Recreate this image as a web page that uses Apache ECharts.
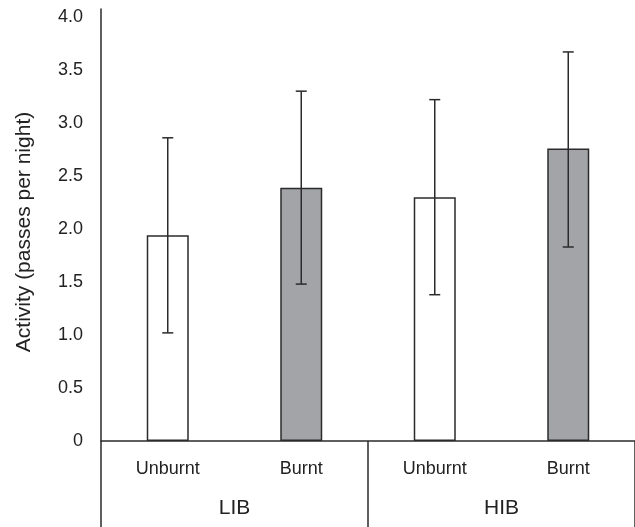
<!DOCTYPE html>
<html><head><meta charset="utf-8">
<script src="https://cdn.jsdelivr.net/npm/echarts@6/dist/echarts.min.js"></script>
<style>html,body{margin:0;padding:0;background:#fff}#c{width:635px;height:527px}</style>
</head><body><div id="c"></div>
<script>
var categories = ['Unburnt', 'Burnt', 'Unburnt', 'Burnt'];
var groups = ['LIB', 'HIB'];
var means = [1.94, 2.39, 2.30, 2.76];
var upper = [2.86, 3.30, 3.22, 3.67];
var lower = [1.02, 1.48, 1.38, 1.83];
var fills = ['#ffffff', '#a3a4a8', '#ffffff', '#a3a4a8'];
var yTicks = [0, 0.5, 1.0, 1.5, 2.0, 2.5, 3.0, 3.5, 4.0];

var ink = '#2b2b2b';
var chart = echarts.init(document.getElementById('c'));
var font = 'Liberation Sans, Arial, sans-serif';
chart.setOption({
  animation: false,
  grid: { left: 101, right: -2, top: 9, bottom: 86 },
  xAxis: [{
    type: 'category', data: categories, position: 'bottom',
    axisLine: { lineStyle: { color: ink, width: 1.5 } },
    axisTick: { show: false },
    axisLabel: { color: '#222', fontSize: 18, fontFamily: font, margin: 19 }
  }, {
    type: 'category', data: groups, position: 'bottom',
    axisLine: { show: false },
    axisTick: { show: true, length: 86, lineStyle: { color: ink, width: 1.5 } },
    axisLabel: { color: '#222', fontSize: 21, fontFamily: font, margin: 57 }
  }],
  yAxis: {
    type: 'value', min: 0, max: 4.075, interval: 0.5,
    name: 'Activity (passes per night)', nameLocation: 'middle', nameGap: 66,
    nameTextStyle: { color: '#222', fontSize: 21, fontFamily: font, padding: [0, 14, 0, 0] },
    axisLine: { show: true, lineStyle: { color: ink, width: 1.5 } },
    axisTick: { show: false },
    splitLine: { show: false },
    axisLabel: {
      color: '#222', fontSize: 18, fontFamily: font, margin: 18, showMaxLabel: false,
      formatter: function (v) {
        var i = yTicks.indexOf(Math.round(v * 10) / 10);
        if (i < 0) return '';
        return v === 0 ? '0' : yTicks[i].toFixed(1);
      }
    }
  },
  series: [{
    type: 'bar', xAxisIndex: 0, barWidth: 42,
    data: means.map(function (m, i) {
      return { value: m, itemStyle: { color: fills[i], borderColor: ink, borderWidth: 1.5 } };
    })
  }, {
    type: 'custom', xAxisIndex: 0,
    data: means.map(function (m, i) { return [i, lower[i], upper[i]]; }),
    renderItem: function (params, api) {
      var hi = api.coord([api.value(0), api.value(2)]);
      var lo = api.coord([api.value(0), api.value(1)]);
      var w = 5.5;
      var st = { stroke: ink, lineWidth: 1.5 };
      return { type: 'group', children: [
        { type: 'line', shape: { x1: hi[0], y1: hi[1], x2: lo[0], y2: lo[1] }, style: st },
        { type: 'line', shape: { x1: hi[0] - w, y1: hi[1], x2: hi[0] + w, y2: hi[1] }, style: st },
        { type: 'line', shape: { x1: lo[0] - w, y1: lo[1], x2: lo[0] + w, y2: lo[1] }, style: st }
      ]};
    },
    z: 5
  }]
});
</script></body></html>
